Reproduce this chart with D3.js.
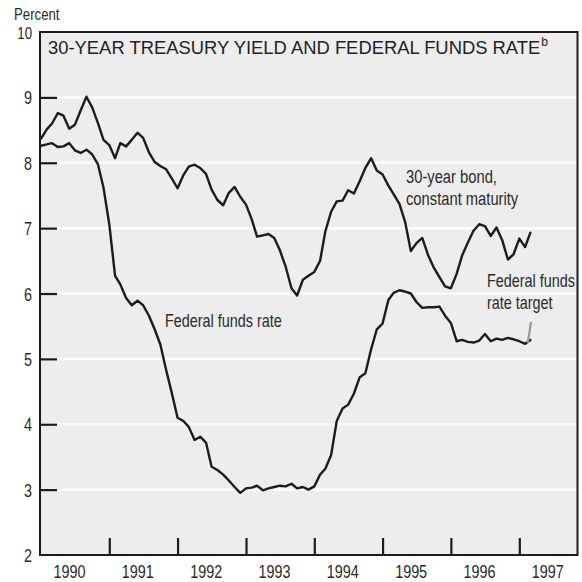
<!DOCTYPE html>
<html><head><meta charset="utf-8">
<script src="https://cdn.jsdelivr.net/npm/d3@7"></script>
<style>html,body{margin:0;padding:0;background:#fff;} svg{display:block}</style>
</head><body>
<svg id="chart" width="582" height="582"></svg>
<script>
// ---------- data (monthly, starting January 1990) ----------
const startDate = "1990-01-01";
const bondYield = [
  8.37, 8.51, 8.60, 8.76, 8.72, 8.52, 8.58, 8.80, 9.01, 8.85,
  8.61, 8.35, 8.27, 8.07, 8.30, 8.25, 8.35, 8.46, 8.38, 8.16,
  8.01, 7.95, 7.90, 7.76, 7.61, 7.81, 7.94, 7.97, 7.92, 7.83,
  7.59, 7.43, 7.35, 7.54, 7.63, 7.48, 7.36, 7.13, 6.87, 6.89,
  6.91, 6.85, 6.66, 6.41, 6.08, 5.97, 6.21, 6.27, 6.33, 6.50,
  6.95, 7.25, 7.41, 7.42, 7.58, 7.53, 7.72, 7.92, 8.07, 7.88,
  7.82, 7.65, 7.52, 7.37, 7.10, 6.65, 6.77, 6.85, 6.59, 6.40,
  6.25, 6.11, 6.08, 6.30, 6.58, 6.78, 6.96, 7.06, 7.03, 6.88,
  7.01, 6.82, 6.52, 6.60, 6.84, 6.71, 6.93
];
const fedFunds = [
  8.26, 8.28, 8.30, 8.24, 8.25, 8.30, 8.19, 8.15, 8.20, 8.13,
  7.98, 7.62, 7.06, 6.27, 6.14, 5.93, 5.82, 5.89, 5.82, 5.66,
  5.45, 5.22, 4.83, 4.48, 4.10, 4.05, 3.96, 3.76, 3.81, 3.72,
  3.35, 3.30, 3.23, 3.14, 3.04, 2.95, 3.02, 3.03, 3.06, 2.99,
  3.02, 3.04, 3.06, 3.05, 3.09, 3.02, 3.04, 3.00, 3.05, 3.23,
  3.32, 3.53, 4.05, 4.24, 4.30, 4.47, 4.72, 4.78, 5.15, 5.45,
  5.54, 5.90, 6.01, 6.05, 6.03, 6.00, 5.87, 5.78, 5.79, 5.79,
  5.80, 5.66, 5.55, 5.27, 5.29, 5.26, 5.25, 5.28, 5.38, 5.27,
  5.31, 5.29, 5.32, 5.30, 5.27, 5.23, 5.29
];
const targetDates = ["1997-02-16", "1997-03-04"];
const targetValues = [5.26, 5.55];
const yTickValues = [2, 3, 4, 5, 6, 7, 8, 9, 10];
const gridValues = [3, 4, 5, 6, 7, 8, 9];
const yearTicks = ["1991", "1992", "1993", "1994", "1995", "1996", "1997"];
const yearLabels = ["1990", "1991", "1992", "1993", "1994", "1995", "1996", "1997"];
const titleText = "30-YEAR TREASURY YIELD AND FEDERAL FUNDS RATE";
const titleSup = "b";
const yUnit = "Percent";
const bondLabel = ["30-year bond,", "constant maturity"];
const fundsLabel = ["Federal funds rate"];
const targetLabel = ["Federal funds", "rate target"];

// ---------- layout ----------
const parse = d3.timeParse("%Y-%m-%d");
const t0 = parse(startDate);
const bondData = bondYield.map((v, i) => ({ date: d3.timeMonth.offset(t0, i), value: v }));
const fundsData = fedFunds.map((v, i) => ({ date: d3.timeMonth.offset(t0, i), value: v }));
const targetData = targetDates.map((d, i) => ({ date: parse(d), value: targetValues[i] }));

const L = 40, T = 32, R = 577.5, B = 555;
const svg = d3.select("#chart");
const font = "'Liberation Sans', Arial, Helvetica, sans-serif";
const ink = "#1c1c1c";

const x = d3.scaleTime()
  .domain([parse("1990-01-01"), parse("1997-11-08")])
  .range([41, R]);
const y = d3.scaleLinear().domain([2, 10]).range([B, T]);

// plot background
svg.append("rect").attr("x", L).attr("y", T).attr("width", R - L).attr("height", B - T)
  .attr("fill", "#ededed");

// white gridlines
svg.append("g").selectAll("line").data(gridValues).join("line")
  .attr("x1", L).attr("x2", R)
  .attr("y1", d => y(d)).attr("y2", d => y(d))
  .attr("stroke", "#fdfdfd").attr("stroke-width", 2.5);

// inward ticks via d3 axes
const yAxis = d3.axisLeft(y).tickValues(gridValues).tickSize(-17).tickFormat("");
const yg = svg.append("g").attr("transform", `translate(${L},0)`).call(yAxis);
yg.select(".domain").remove();
yg.selectAll(".tick line").attr("stroke", ink).attr("stroke-width", 2.2);

const xAxis = d3.axisBottom(x).tickValues(yearTicks.map(s => parse(s + "-01-01"))).tickSize(-17).tickFormat("");
const xg = svg.append("g").attr("transform", `translate(0,${B})`).call(xAxis);
xg.select(".domain").remove();
xg.selectAll(".tick line").attr("stroke", ink).attr("stroke-width", 2.2);

// frame
svg.append("rect").attr("x", L).attr("y", T).attr("width", R - L).attr("height", B - T)
  .attr("fill", "none").attr("stroke", ink).attr("stroke-width", 2);

// condensed text helper
function ctext(str, px, py, anchor, size, sx) {
  return svg.append("text")
    .attr("transform", `translate(${px},${py}) scale(${sx || 0.8},1)`)
    .attr("text-anchor", anchor)
    .style("font-family", font).style("font-size", size + "px")
    .attr("fill", "#2a2a2a")
    .text(str);
}

// y labels
yTickValues.forEach(v => ctext(String(v), 32, y(v) + 7, "end", v === 10 ? 16.5 : 18));
ctext(yUnit, 14, 19.5, "start", 16.5);

// year labels
yearLabels.forEach(s => {
  const mid = new Date(+s, 6, 2);
  ctext(s, x(mid) - 5.5, 578, "middle", 18);
});

// lines
const line = d3.line().x(d => x(d.date)).y(d => y(d.value));
svg.append("path").datum(bondData).attr("d", line)
  .attr("fill", "none").attr("stroke", ink).attr("stroke-width", 2.4)
  .attr("stroke-linejoin", "round").attr("stroke-linecap", "round");
svg.append("path").datum(fundsData).attr("d", line)
  .attr("fill", "none").attr("stroke", ink).attr("stroke-width", 2.4)
  .attr("stroke-linejoin", "round").attr("stroke-linecap", "round");
svg.append("path").datum(targetData).attr("d", line)
  .attr("fill", "none").attr("stroke", "#9a9a9a").attr("stroke-width", 2.3)
  .attr("stroke-linecap", "round");

// title
const title = svg.append("text").attr("x", 48).attr("y", 54)
  .style("font-family", font).style("font-size", "18.4px").attr("fill", "#222")
  .text(titleText);
title.append("tspan").attr("dy", -8).attr("dx", 1).style("font-size", "12px").text(titleSup);

// annotations
bondLabel.forEach((s, i) => ctext(s, 406, 183 + i * 22, "start", 18, 0.82));
fundsLabel.forEach((s, i) => ctext(s, 165, 327 + i * 22, "start", 18));
targetLabel.forEach((s, i) => ctext(s, 487, 287 + i * 21.5, "start", 18));
</script>
</body></html>
